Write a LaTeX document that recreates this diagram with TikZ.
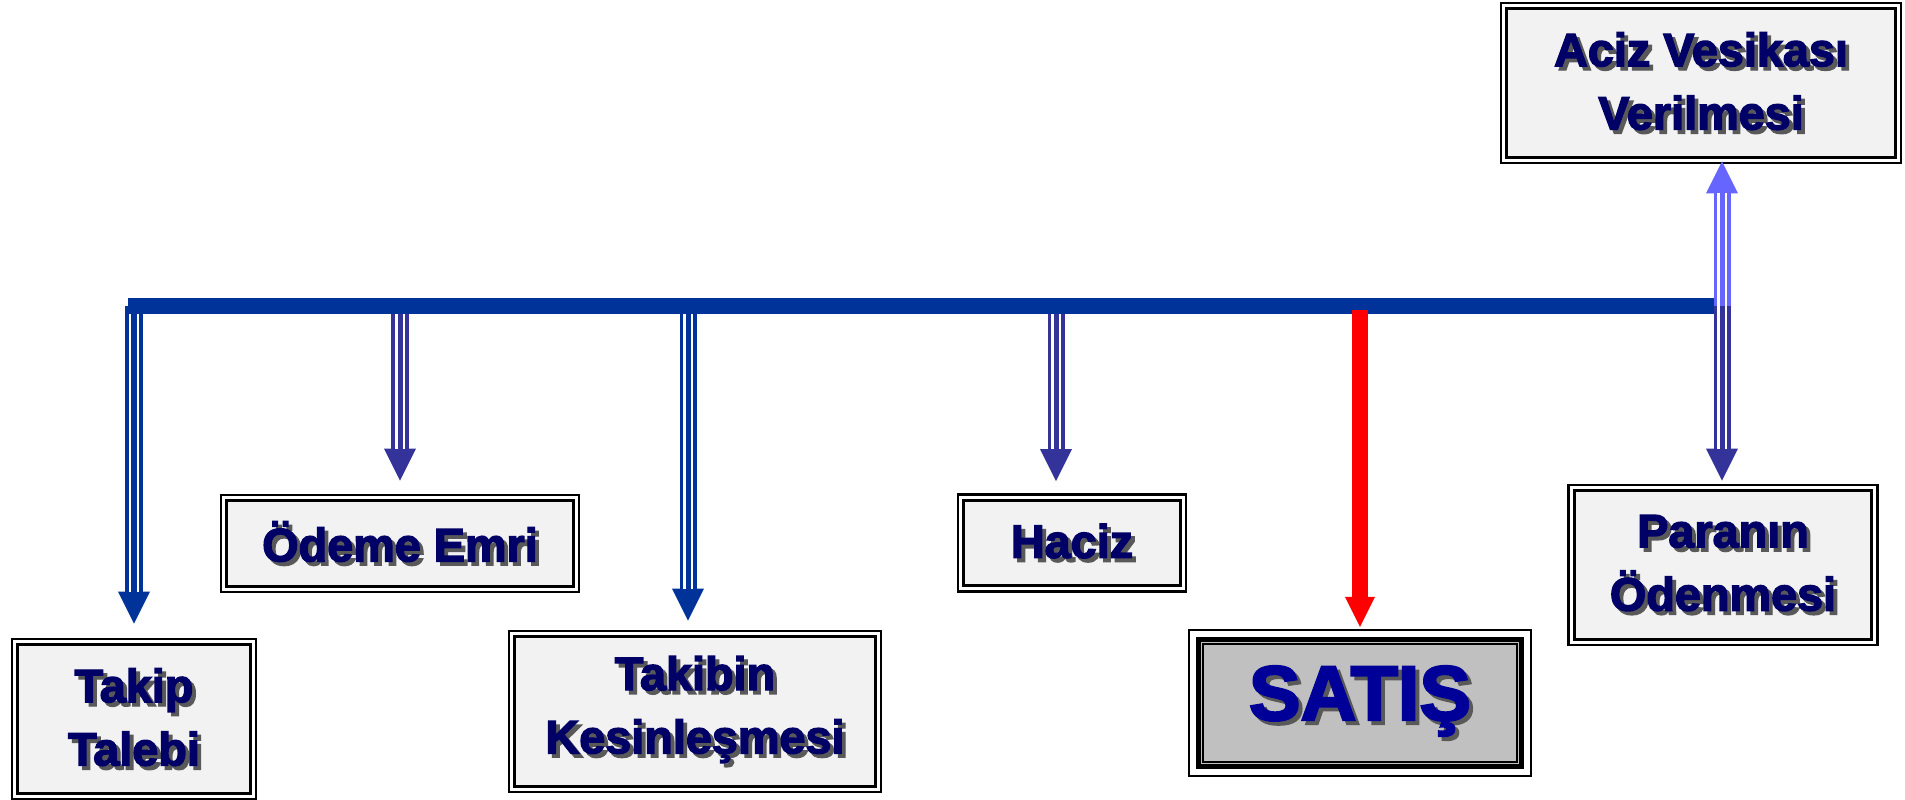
\documentclass[tikz,border=0pt]{standalone}
\usepackage{fontspec}
\setmainfont{Liberation Sans}[BoldFeatures={FakeBold=3}]
\usetikzlibrary{arrows.meta,calc,positioning}

\definecolor{barblue}{HTML}{003399}
\definecolor{arrblue}{HTML}{333399}
\definecolor{lightarr}{HTML}{6666FF}
\definecolor{navytext}{HTML}{000066}
\definecolor{satisblue}{HTML}{000099}
\definecolor{boxgray}{HTML}{F2F2F2}
\definecolor{satisgray}{HTML}{C0C0C0}

\newcommand{\golge}[1]{\rlap{\kern1.1pt\raisebox{-1.1pt}{\textcolor{black!65}{#1}}}#1}

\begin{document}
\begin{tikzpicture}[x=0.01cm, y=-0.01cm,
		box/.style={draw=black, line width=0.75pt, double=white, double distance=0.85pt,
			fill=boxgray, text=navytext, align=center, inner sep=0pt,
			font=\fontsize{13.3}{18}\selectfont\bfseries},
		bigbox/.style={draw=black, line width=0.05cm, fill=satisgray, text=satisblue,
			inner sep=0pt, font=\fontsize{22}{26}\selectfont\bfseries},
		tri/.style 2 args={draw=#1, line width=0.17cm, shorten >=#2,
			-{Triangle[length=0.32cm, width=0.32cm, line width=0pt]},
			postaction={draw=white, line width=0.1cm, -, shorten >=#2+0.32cm},
			postaction={draw=#1, line width=0.05cm, -, shorten >=#2+0.32cm}},
		solid arrow/.style={draw=red, line width=0.16cm, shorten >=#1,
			-{Triangle[length=0.3cm, width=0.3cm, line width=0pt]}},
		mainbar/.style={draw=barblue, line width=0.16cm}
		]
	\useasboundingbox (0,0) rectangle (1905,800);

	% --- kutular ---
	\node[box, minimum width=2.38cm, minimum height=1.54cm] (takip) at (134,719) {\golge{Takip}\\\golge{Talebi}};
	\node[box, minimum width=3.52cm, minimum height=0.91cm] (odeme) at (400,543.5) {\golge{Ödeme Emri}};
	\node[box, minimum width=3.66cm, minimum height=1.55cm] (takibin) at (695,711.5) {\golge{Takibin}\\\golge{Kesinleşmesi}};
	\node[box, minimum width=2.22cm, minimum height=0.91cm] (haciz) at (1072,543) {\golge{Haciz}};
	\node[bigbox, minimum width=3.23cm, minimum height=1.27cm] (satis) at (1360,703) {\golge{SATIŞ}};
	\node[box, minimum width=3.03cm, minimum height=1.54cm] (paranin) at (1723,565) {\golge{Paranın}\\\golge{Ödenmesi}};
	\node[box, minimum width=3.94cm, minimum height=1.54cm] (aciz) at (1701,83) {\golge{Aciz Vesikası}\\\golge{Verilmesi}};

	% cerceve of SATIŞ
	\draw[black, line width=0.02cm] ([shift={(-0.065cm,0.065cm)}]satis.north west) rectangle ([shift={(0.065cm,-0.065cm)}]satis.south east);
	\draw[black, line width=0.02cm] ([shift={(0.075cm,-0.075cm)}]satis.north west) rectangle ([shift={(-0.075cm,0.075cm)}]satis.south east);

	% --- zaman cizgisi ---
	\coordinate (b0) at (128,306);
	\coordinate (b1) at (1728,306);
	\coordinate (a1) at (134,306);
	\coordinate (a2) at (400,306);
	\coordinate (a3) at (688,306);
	\coordinate (a4) at (1056,306);
	\coordinate (a5) at (1360,310);
	\coordinate (a6) at (1722,306);

	\draw[tri={barblue}{0.17cm}] (a1) -- (a1 |- takip.north);
	\draw[tri={arrblue}{0.16cm}] (a2) -- (a2 |- odeme.north);
	\draw[tri={barblue}{0.12cm}] (a3) -- (a3 |- takibin.north);
	\draw[tri={arrblue}{0.15cm}] (a4) -- (a4 |- haciz.north);

	\draw[mainbar] (b0) -- (b1);

	\draw[solid arrow=0.1cm] (a5) -- (a5 |- satis.north);
	\draw[tri={arrblue}{0.06cm}] (a6) -- (a6 |- paranin.north);
	\draw[tri={lightarr}{0cm}] (a6) -- (a6 |- aciz.south);

\end{tikzpicture}
\end{document}
